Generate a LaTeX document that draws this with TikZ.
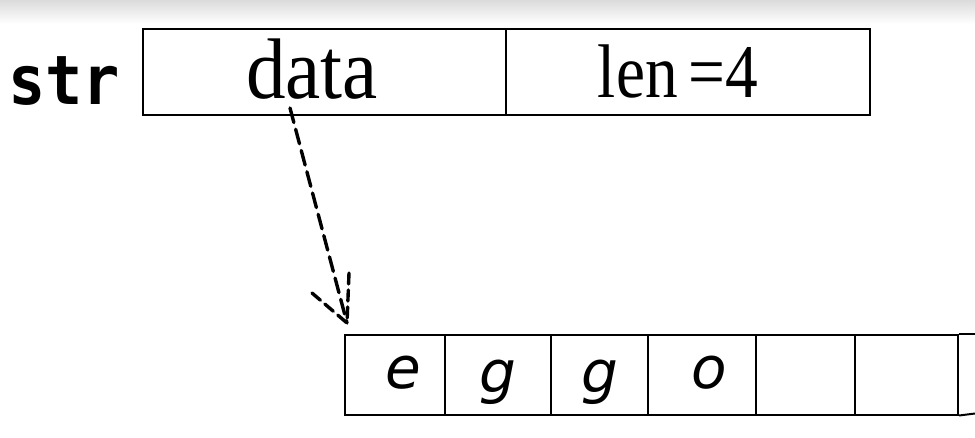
\documentclass[tikz,border=0pt]{standalone}
\usepackage{fontspec}
\setmainfont{Liberation Serif}
\newfontfamily\strfont{DejaVu Sans Mono}
\newfontfamily\cellfont{DejaVu Sans}
\usetikzlibrary{positioning}
\begin{document}
\begin{tikzpicture}[x=1pt,y=-1pt,
  cellbox/.style={draw=black,line width=2pt,inner sep=0pt,anchor=north west},
  ptrline/.style={line width=3.4pt,dash pattern=on 15pt off 7pt,line cap=round},
  celltext/.style={font=\cellfont\itshape\fontsize{58}{58}\selectfont,inner sep=0pt}]
\useasboundingbox (0,0) rectangle (975,437);
\fill[top color=black!14,bottom color=white] (0,0) rectangle (975,24);
% top struct
\node[cellbox,minimum width=363pt,minimum height=86pt] (data) at (142,28) {};
\node[cellbox,minimum width=364pt,minimum height=86pt] (len) at (505,28) {};
\node[inner sep=0pt,font=\fontsize{86}{86}\selectfont,xscale=0.92,transform shape] (datat) at (312,69) {data};
\node[inner sep=0pt,font=\fontsize{76}{76}\selectfont,xscale=0.86,transform shape] (lent) at (678,72) {len\,=4};
\node[inner sep=0pt,font=\strfont\bfseries\fontsize{62}{62}\selectfont,yscale=1.1,transform shape] (str) at (64,81) {str};
% array cells
\foreach \i/\a/\b in {1/344/444,2/444/550,3/550/647,4/647/755,5/755/854,6/854/957}{
  \pgfmathsetmacro{\w}{\b-\a}
  \node[cellbox,minimum width=\w pt,minimum height=80pt] (c\i) at (\a,333.5) {};
}
\coordinate (et) at (975,333.5);
\coordinate (eb) at (975,413.5);
\draw[line width=2pt] (c6.north east) -- (et);
\draw[line width=2pt] (c6.south east) -- (eb);
\node[celltext] (t1) at (403,373) {e};
\node[celltext] (t2) at (498,382) {g};
\node[celltext] (t3) at (600,382) {g};
\node[celltext] (t4) at (709,373) {o};
% pointer
\coordinate (ps) at (290,108);
\coordinate (pt) at (347,323);
\coordinate (hl) at (312,293);
\coordinate (hr) at (349,273);
\draw[ptrline] (ps) -- (pt);
\draw[ptrline,dash pattern=on 11pt off 6pt] (hl) -- (pt);
\draw[ptrline,dash pattern=on 11pt off 6pt] (hr) -- (pt);
\end{tikzpicture}
\end{document}
